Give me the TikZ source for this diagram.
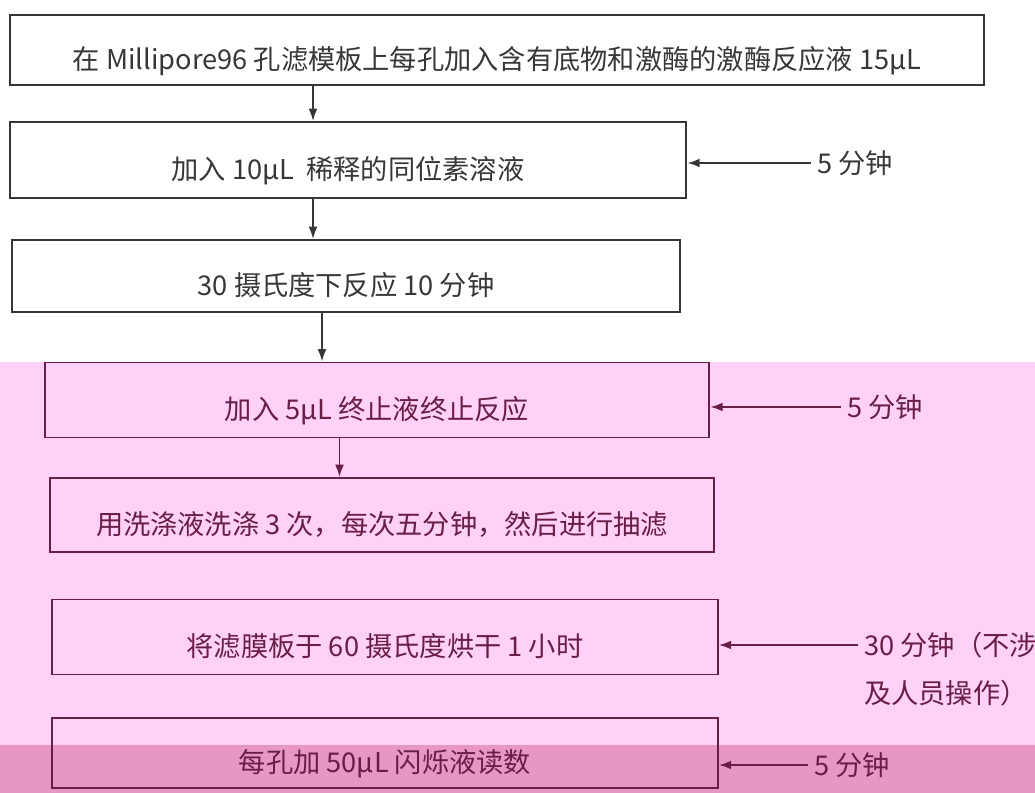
\documentclass[tikz,border=0pt]{standalone}
\usepackage{fontspec}
\setmainfont{Noto Sans CJK SC}
\usetikzlibrary{positioning,arrows.meta}
\definecolor{scanpink}{RGB}{255,208,248}
\definecolor{scanband}{RGB}{232,150,196}
\definecolor{inkgrey}{RGB}{55,55,55}
\definecolor{inkred}{RGB}{105,30,70}

\begin{document}
\begin{tikzpicture}[x=0.02cm, y=-0.02cm,
  every node/.style={font=\fontsize{15.5}{18}\selectfont},
  stepbox/.style={draw, rectangle, line width=1.1pt, minimum height=1.46cm,
    text height=22pt, text depth=0pt},
  flow/.style={-{Latex[length=7pt,width=5pt]}, line width=1pt}]
  \useasboundingbox (0,0) rectangle (1035,793);
  % scan background
  \fill[scanpink] (0,362) rectangle (1035,793);
  \fill[scanband] (0,745) rectangle (1035,793);

  \node[stepbox, inkgrey, minimum width=19.5cm, minimum height=1.4cm] (s1) at (497,50)
    {在 Millipore96 孔滤模板上每孔加入含有底物和激酶的激酶反应液 15μL};
  \node[stepbox, inkgrey, minimum width=13.54cm, minimum height=1.52cm] (s2) at (348,160)
    {加入 10μL \ 稀释的同位素溶液};
  \node[stepbox, inkgrey, minimum width=13.36cm, minimum height=1.44cm] (s3) at (346,276)
    {30 摄氏度下反应 10 分钟};
  \node[stepbox, inkred, minimum width=13.3cm, minimum height=1.5cm] (s4) at (377,400)
    {加入 5μL 终止液终止反应};
  \node[stepbox, inkred, minimum width=13.3cm, minimum height=1.48cm] (s5) at (382,515)
    {用洗涤液洗涤 3 次，每次五分钟，然后进行抽滤};
  \node[stepbox, inkred, minimum width=13.32cm, minimum height=1.5cm] (s6) at (385,637)
    {将滤膜板于 60 摄氏度烘干 1 小时};
  \node[stepbox, inkred, minimum width=13.32cm, minimum height=1.4cm] (s7) at (385,753)
    {每孔加 50μL 闪烁液读数};

  % times on the right
  \node[inkgrey] (t2) at (855,163) {5 分钟};
  \node[inkred] (t4) at (885,407) {5 分钟};
  \node[inkred, anchor=west] (t6) at (858,645) {30 分钟（不涉};
  \node[inkred, below=0.2cm of t6.south west, anchor=north west] (t6b) {及人员操作）};
  \node[inkred] (t7) at (852,765) {5 分钟};

  % flow down
  \draw[flow, inkgrey] ([xshift=-0.7cm]s2.north |- s1.south) -- ([xshift=-0.7cm]s2.north);
  \draw[flow, inkgrey] ([xshift=-0.7cm]s2.south) -- ([xshift=-0.7cm]s2.south |- s3.north);
  \draw[flow, inkgrey] ([xshift=-0.48cm]s3.south) -- ([xshift=-0.48cm]s3.south |- s4.north);
  \draw[flow, inkred] ([xshift=-0.75cm]s4.south) -- ([xshift=-0.75cm]s4.south |- s5.north);

  % side arrows
  \draw[flow, inkgrey] (t2.west) -- (t2.west -| s2.east);
  \draw[flow, inkred] (t4.west) -- (t4.west -| s4.east);
  \draw[flow, inkred] (t6.west) -- (t6.west -| s6.east);
  \draw[flow, inkred] (t7.west) -- (t7.west -| s7.east);
\end{tikzpicture}
\end{document}
